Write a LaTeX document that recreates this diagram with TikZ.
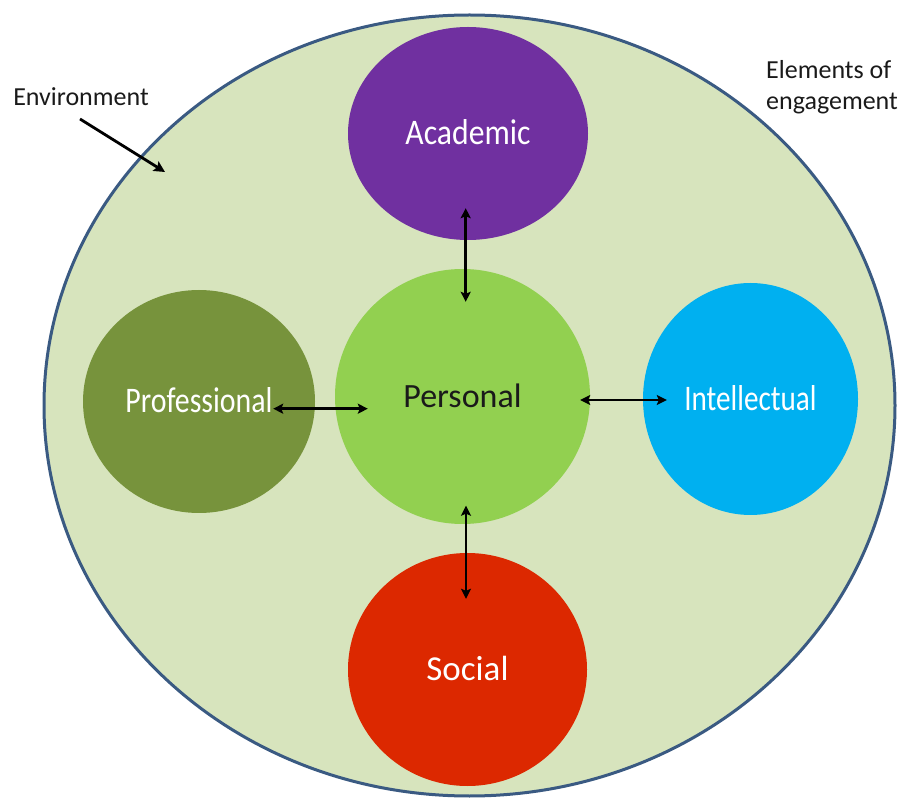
\documentclass[tikz,border=0pt]{standalone}
\usepackage{fontspec}
\setmainfont{Carlito}
\newfontfamily\acadfont[FakeStretch=0.88]{Carlito}
\newfontfamily\intfont[FakeStretch=0.81]{Carlito}
\newfontfamily\proffont[FakeStretch=0.83]{Carlito}
\usetikzlibrary{shapes.geometric,arrows.meta}
\definecolor{envfill}{HTML}{D7E4BD}
\definecolor{envline}{HTML}{3A5A82}
\definecolor{acadc}{HTML}{7030A0}
\definecolor{persc}{HTML}{92D050}
\definecolor{profc}{HTML}{77933C}
\definecolor{intc}{HTML}{00B0F0}
\definecolor{socc}{HTML}{DC2800}
\definecolor{darktext}{HTML}{1A1A1A}
\begin{document}
\begin{tikzpicture}[x=1pt,y=-1pt,
  blob/.style={ellipse, inner sep=0pt, text=white, text height=23pt, text depth=0pt},
  biarrow/.style={{Stealth[length=10pt,width=10pt,inset=2pt]}-{Stealth[length=10pt,width=10pt,inset=2pt]}, line width=2.8pt, black},
  onearrow/.style={-{Stealth[length=11pt,width=11pt,inset=2pt]}, line width=2.8pt, black},
  plain/.style={inner sep=0pt, text=darktext, font=\fontsize{26}{31}\selectfont}]
\useasboundingbox (0,0) rectangle (903,799);
% environment
\node[ellipse, draw=envline, line width=3pt, fill=envfill, minimum width=851pt, minimum height=781pt] (envr) at (469.5,405.5) {};
% elements
\node[blob, fill=acadc, minimum width=240pt, minimum height=213pt, font=\fontsize{36}{40}\acadfont] (acad) at (468,133.5) {Academic};
\node[blob, fill=persc, minimum width=255pt, minimum height=255pt, text=darktext, text height=22pt, font=\fontsize{34}{40}\selectfont] (pers) at (462.5,396.5) {Personal};
\node[blob, fill=profc, minimum width=232pt, minimum height=223pt, font=\fontsize{36}{40}\proffont] (prof) at (199,401.5) {Professional};
\node[blob, fill=intc, minimum width=215pt, minimum height=232pt, font=\fontsize{36}{40}\intfont] (int) at (750.5,399) {Intellectual};
\node[blob, fill=socc, minimum width=239pt, minimum height=233pt, text height=22.5pt, font=\fontsize{35}{40}\selectfont] (soc) at (467.5,669.5) {Social};
% connectors
\draw[biarrow] ([xshift=-2.3pt,yshift=32pt]acad.south) -- ([xshift=3.2pt,yshift=-33pt]pers.north);
\draw[biarrow] ([xshift=3.5pt,yshift=18.5pt]pers.south) -- ([xshift=-1.5pt,yshift=-46pt]soc.north);
\draw[biarrow] ([xshift=-42pt,yshift=-7.2pt]prof.east) -- ([xshift=33pt,yshift=-12.2pt]pers.west);
\draw[biarrow] ([xshift=-10pt,yshift=-3.5pt]pers.east) -- ([xshift=24pt,yshift=-1pt]int.west);
% labels
\node[plain, anchor=base] (envlabel) at (81,106) {Environment};
\coordinate (envtip) at (165,172);
\draw[onearrow] ([xshift=-1pt,yshift=-13pt]envlabel.base) -- (envtip);
\node[plain, anchor=base west, align=left] (elements) at (766,110) {Elements of\\engagement};
\end{tikzpicture}
\end{document}
